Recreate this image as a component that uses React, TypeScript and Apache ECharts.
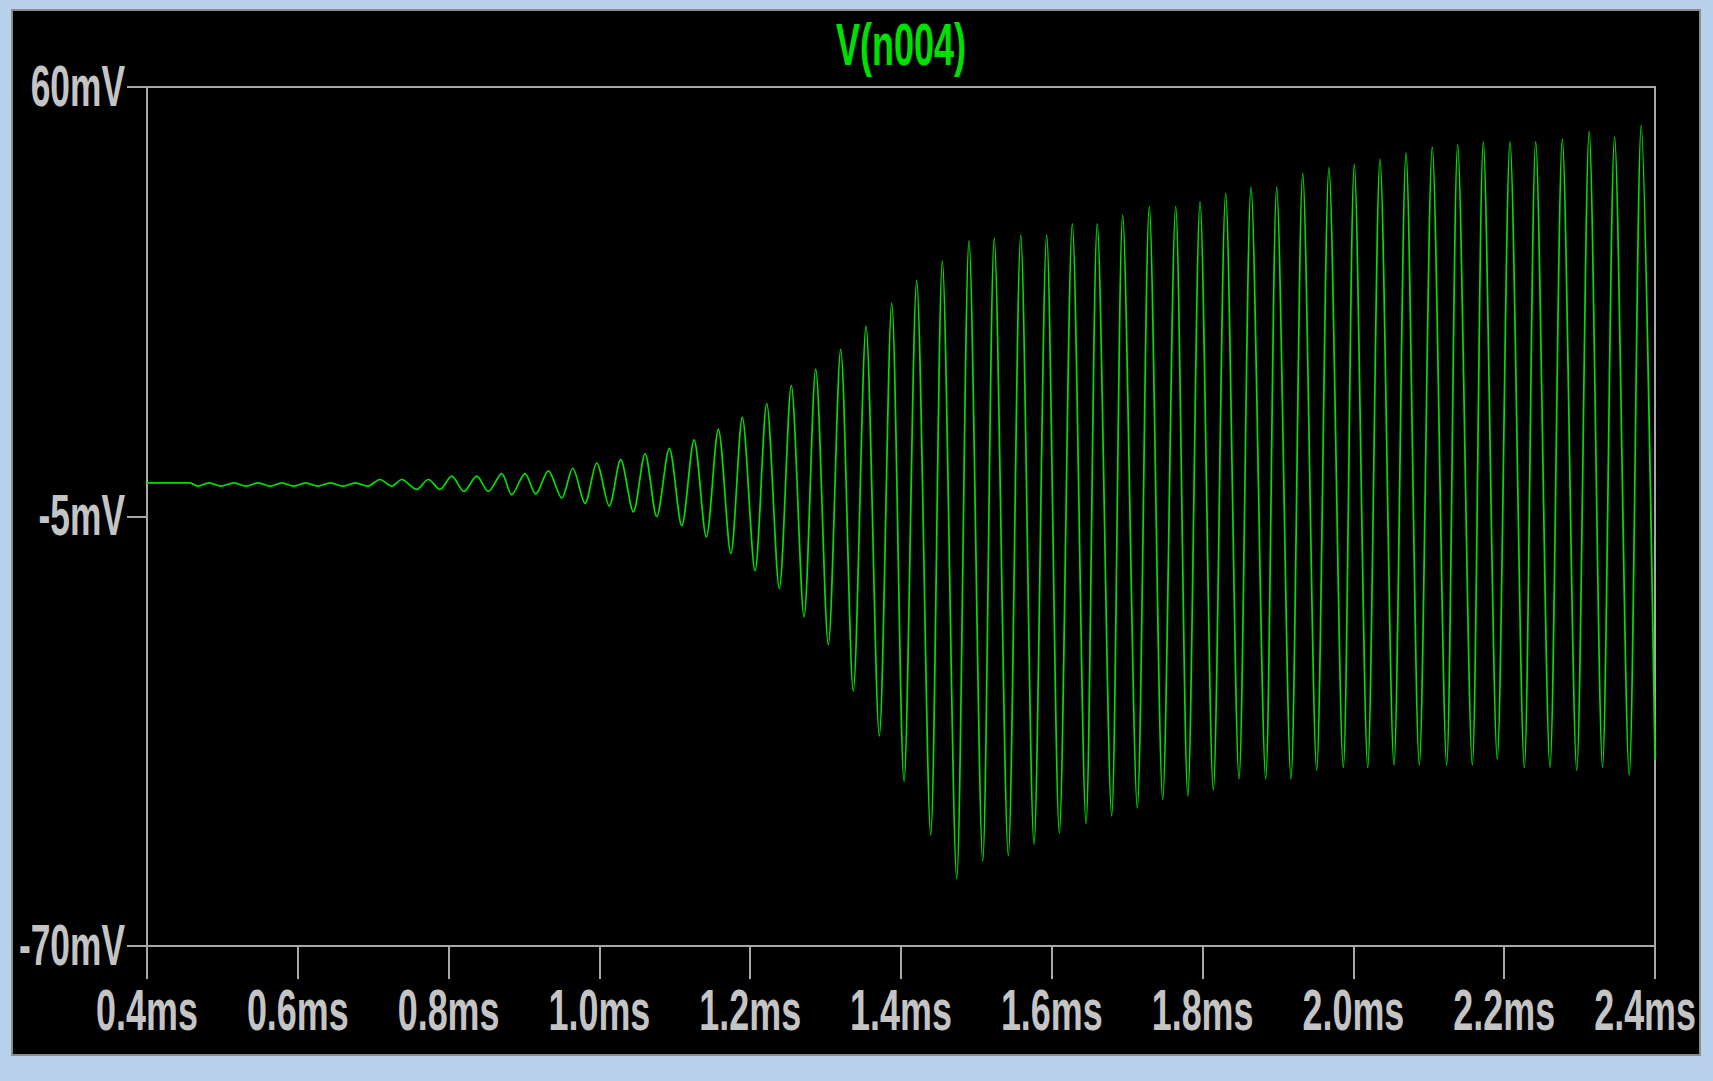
import React, { useEffect, useRef } from "react";
import * as echarts from "echarts";

// ---- Trace V(n004): extrema (time in ms, voltage in mV)
const quietTimesMs = [
  0.4, 0.457, 0.4672, 0.4826, 0.4981, 0.515, 0.5317, 0.5476, 0.5635, 0.579,
  0.5946, 0.6105, 0.6264, 0.6431, 0.6599, 0.6763, 0.6927,
];
const quietVoltsMv = [
  0.1, 0.1, -0.4, 0.1, -0.4, 0.1, -0.4, 0.1, -0.4, 0.1,
  -0.4, 0.1, -0.4, 0.1, -0.4, 0.1, -0.4,
];

const growthTimesMs = [
  0.709, 0.7245, 0.7378, 0.7577, 0.7731, 0.7886, 0.8041, 0.8204, 0.8373, 0.8527,
  0.8704, 0.8837, 0.9013, 0.9155, 0.9322, 0.95, 0.9646, 0.9809, 0.9964, 1.0131,
  1.0282, 1.045, 1.0605, 1.076, 1.0927, 1.1092, 1.1255, 1.1418, 1.1577, 1.1743,
  1.1895, 1.2064, 1.2219, 1.2386, 1.2545, 1.2714, 1.2869, 1.3036, 1.32, 1.3367,
  1.3536, 1.3712, 1.3877, 1.404, 1.4208, 1.4394, 1.4548, 1.4739,
];
const growthVoltsMv = [
  0.6, -0.4, 0.6, -0.9, 0.6, -0.9, 1.1, -1.2, 1.1, -1.2,
  1.5, -1.7, 1.5, -1.6, 1.9, -2.2, 2.3, -3.0, 3.1, -3.4,
  3.6, -4.3, 4.5, -5.0, 5.3, -6.4, 6.6, -8.1, 8.2, -10.6,
  10.0, -13.2, 12.1, -15.9, 14.8, -20.2, 17.3, -24.4, 20.3, -31.4,
  23.8, -38.2, 27.3, -45.1, 30.7, -53.2, 33.7, -59.8,
];

const steadyTimesMs = [
  1.4902, 1.5084, 1.5237, 1.5423, 1.5588, 1.5764, 1.5932, 1.61, 1.6272, 1.6454,
  1.6603, 1.6794, 1.694, 1.7134, 1.7293, 1.7471, 1.7643, 1.7804, 1.7966, 1.8142,
  1.8306, 1.8483, 1.8642, 1.8837, 1.8983, 1.9172, 1.9328, 1.9513, 1.9676, 1.9866,
  2.0012, 2.019, 2.0353, 2.0538, 2.0698, 2.0874, 2.1046, 2.1237, 2.1383, 2.1577,
  2.1723, 2.1908, 2.2077, 2.2267, 2.2418, 2.2607, 2.2771, 2.2962, 2.3127, 2.3304,
  2.3464, 2.3658, 2.3817, 2.4,
];
const steadyVoltsMv = [
  36.7, -57.1, 37.1, -56.3, 37.6, -54.6, 37.6, -52.9, 39.3, -51.5,
  39.3, -50.3, 40.6, -49.1, 41.9, -47.8, 41.9, -47.3, 42.6, -46.4,
  43.9, -44.7, 44.8, -44.7, 44.8, -44.7, 46.9, -43.4, 47.8, -43.0,
  48.3, -43.0, 49.1, -42.6, 50.0, -42.6, 50.9, -42.6, 51.3, -42.6,
  51.7, -41.7, 51.7, -43.0, 51.7, -43.0, 52.1, -43.4, 53.3, -42.9,
  52.4, -44.1, 54.2, -41.9,
];

// ---- Axes
const xTickValues = [0.4, 0.6, 0.8, 1.0, 1.2, 1.4, 1.6, 1.8, 2.0, 2.2, 2.4];
const xTickLabels = ["0.4ms", "0.6ms", "0.8ms", "1.0ms", "1.2ms", "1.4ms", "1.6ms", "1.8ms", "2.0ms", "2.2ms", "2.4ms"];
const yTickValues = [60, -5, -70];
const yTickLabels = ["60mV", "-5mV", "-70mV"];
const traceName = "V(n004)";

const TRACE_COLOR = "#00e000";
const AXIS_COLOR = "#a8a8a8";
const LABEL_COLOR = "#c4c4c4";
const LABEL_FONT = '"Liberation Sans", Arial, "DejaVu Sans", sans-serif';

const CHART_W = 1686;
const CHART_H = 1043;

export default function App() {
  const ref = useRef<HTMLDivElement>(null);

  useEffect(() => {
    if (!ref.current) return;
    const chart = echarts.init(ref.current, null, { renderer: "svg" });

    const times = [...quietTimesMs, ...growthTimesMs, ...steadyTimesMs];
    const volts = [...quietVoltsMv, ...growthVoltsMv, ...steadyVoltsMv];
    const data = times.map((t, i) => [t, volts[i]]);

    const axisLineStyle = { color: AXIS_COLOR, width: 2 };

    chart.setOption({
      animation: false,
      backgroundColor: "#000000",
      grid: {
        left: 134,
        top: 76,
        right: 44,
        bottom: 108,
        show: true,
        borderColor: AXIS_COLOR,
        borderWidth: 2,
        backgroundColor: "transparent",
      },
      xAxis: {
        type: "value",
        min: 0.4,
        max: 2.4,
        interval: 0.2,
        axisLine: { show: true, onZero: false, lineStyle: axisLineStyle },
        axisTick: { show: true, inside: false, length: 33, lineStyle: axisLineStyle },
        axisLabel: { show: false },
        splitLine: { show: false },
      },
      yAxis: {
        type: "value",
        min: -70,
        max: 60,
        axisLine: { show: true, onZero: false, lineStyle: axisLineStyle },
        axisTick: { show: true, inside: false, length: 20, customValues: yTickValues, lineStyle: axisLineStyle },
        axisLabel: { show: false },
        splitLine: { show: false },
      },
      series: [
        {
          name: traceName,
          type: "line",
          data,
          showSymbol: false,
          symbol: "none",
          silent: true,
          clip: true,
          smooth: 0.3,
          lineStyle: { color: TRACE_COLOR, width: 1.7 },
        },
      ],
    });

    const gridLeft = chart.convertToPixel({ xAxisIndex: 0 }, 0.4) as number;
    const gridBottom = chart.convertToPixel({ yAxisIndex: 0 }, -70) as number;
    const gridRight = chart.convertToPixel({ xAxisIndex: 0 }, 2.4) as number;

    const labelStyle = (text: string, align: string) => ({
      text,
      fill: LABEL_COLOR,
      fontFamily: LABEL_FONT,
      fontWeight: "bold",
      fontSize: 57,
      align,
      verticalAlign: "middle",
    });

    const graphics: any[] = [];
    xTickValues.forEach((v, i) => {
      const isLast = i === xTickValues.length - 1;
      graphics.push({
        type: "text",
        x: isLast ? CHART_W - 3 : (chart.convertToPixel({ xAxisIndex: 0 }, v) as number),
        y: gridBottom + 64,
        scaleX: 0.63,
        silent: true,
        style: labelStyle(xTickLabels[i], isLast ? "right" : "center"),
      });
    });
    yTickValues.forEach((v, i) => {
      graphics.push({
        type: "text",
        x: gridLeft - 22,
        y: (chart.convertToPixel({ yAxisIndex: 0 }, v) as number) - 1,
        scaleX: 0.62,
        silent: true,
        style: labelStyle(yTickLabels[i], "right"),
      });
    });
    graphics.push({
      type: "text",
      x: (gridLeft + gridRight) / 2,
      y: 33,
      scaleX: 0.6,
      silent: true,
      style: {
        text: traceName,
        fill: TRACE_COLOR,
        fontFamily: LABEL_FONT,
        fontWeight: "bold",
        fontSize: 60,
        align: "center",
        verticalAlign: "middle",
      },
    });

    chart.setOption({ graphic: graphics });

    return () => chart.dispose();
  }, []);

  return (
    <div
      style={{
        position: "absolute",
        left: 0,
        top: 0,
        width: 1713,
        height: 1081,
        background: "#b9d1ea",
        overflow: "hidden",
      }}
    >
      <div
        style={{
          position: "absolute",
          left: 11,
          top: 9,
          width: CHART_W,
          height: CHART_H,
          border: "2px solid #8c8c8c",
        }}
      >
        <div ref={ref} style={{ width: CHART_W, height: CHART_H }} />
      </div>
    </div>
  );
}
